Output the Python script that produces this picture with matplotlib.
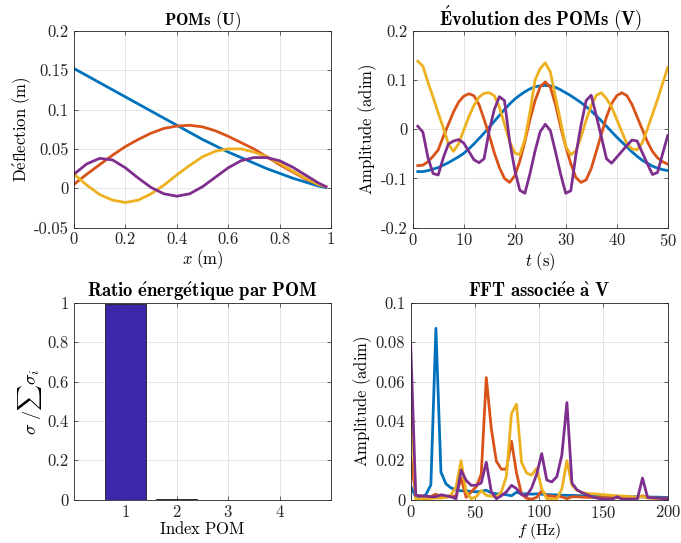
import matplotlib
matplotlib.use("Agg")
import matplotlib.pyplot as plt

plt.rcParams['font.family'] = 'serif'
plt.rcParams['font.serif'] = ['cmr10']
plt.rcParams['mathtext.fontset'] = 'cm'
plt.rcParams['axes.formatter.use_mathtext'] = True
plt.rcParams['axes.unicode_minus'] = True

colors = ['#0072BD', '#D95319', '#EDB120', '#7E2F8E']

# ---- POMs (U) ----
x_pos = [0.0, 0.05, 0.1, 0.15, 0.2, 0.25, 0.3, 0.35, 0.4, 0.45, 0.5, 0.55,
         0.6, 0.65, 0.7, 0.75, 0.8, 0.85, 0.9, 0.95, 0.98]
U1 = [0.152, 0.143, 0.134, 0.125, 0.116, 0.107, 0.098, 0.089, 0.080, 0.071,
      0.062, 0.054, 0.046, 0.039, 0.032, 0.025, 0.019, 0.013, 0.008, 0.003, 0.001]
U2 = [0.005, 0.018, 0.030, 0.042, 0.053, 0.062, 0.070, 0.076, 0.079, 0.080,
      0.078, 0.073, 0.066, 0.058, 0.050, 0.040, 0.030, 0.021, 0.012, 0.005, 0.002]
U3 = [0.018, 0.004, -0.008, -0.015, -0.018, -0.015, -0.007, 0.004, 0.017, 0.029,
      0.040, 0.047, 0.050, 0.050, 0.046, 0.040, 0.032, 0.022, 0.013, 0.005, 0.002]
U4 = [0.018, 0.031, 0.038, 0.036, 0.026, 0.013, 0.001, -0.007, -0.010, -0.007,
      0.002, 0.014, 0.026, 0.035, 0.039, 0.039, 0.035, 0.027, 0.017, 0.007, 0.002]

# ---- Evolution des POMs (V) ----
t = list(range(1, 51))
V1 = [-0.086, -0.086, -0.084, -0.081, -0.078, -0.073, -0.068, -0.062, -0.056, -0.049,
      -0.040, -0.030, -0.019, -0.008, 0.004, 0.016, 0.028, 0.040, 0.051, 0.061,
      0.069, 0.076, 0.082, 0.086, 0.088, 0.089, 0.088, 0.085, 0.080, 0.074,
      0.068, 0.061, 0.054, 0.046, 0.037, 0.027, 0.017, 0.006, -0.005, -0.016,
      -0.026, -0.036, -0.046, -0.055, -0.063, -0.069, -0.075, -0.079, -0.082, -0.084]
V2 = [-0.074, -0.073, -0.066, -0.055, -0.042, -0.015, 0.010, 0.035, 0.055, 0.067,
      0.072, 0.068, 0.050, 0.020, -0.012, -0.048, -0.078, -0.100, -0.108, -0.095,
      -0.065, -0.025, 0.020, 0.058, 0.086, 0.096, 0.085, 0.050, 0.005, -0.035,
      -0.070, -0.098, -0.108, -0.103, -0.080, -0.045, -0.010, 0.025, 0.052, 0.068,
      0.074, 0.068, 0.050, 0.025, 0.000, -0.025, -0.045, -0.058, -0.066, -0.071]
V3 = [0.138, 0.128, 0.095, 0.065, 0.033, 0.003, -0.030, -0.045, -0.030, -0.002,
      0.025, 0.048, 0.065, 0.073, 0.074, 0.068, 0.045, 0.010, -0.025, -0.048,
      -0.052, -0.020, 0.035, 0.100, 0.123, 0.135, 0.116, 0.065, 0.016, -0.035,
      -0.052, -0.044, -0.016, 0.018, 0.048, 0.069, 0.074, 0.062, 0.045, 0.020,
      -0.005, -0.030, -0.040, -0.042, -0.028, 0.000, 0.030, 0.060, 0.093, 0.125]
V4 = [0.006, -0.006, -0.058, -0.090, -0.093, -0.058, -0.030, -0.024, -0.021, -0.028,
      -0.045, -0.062, -0.068, -0.060, -0.003, 0.040, 0.066, 0.058, -0.024, -0.082,
      -0.124, -0.130, -0.090, -0.044, -0.005, 0.010, -0.003, -0.046, -0.091, -0.130,
      -0.125, -0.052, 0.008, 0.058, 0.069, 0.027, -0.016, -0.060, -0.069, -0.057,
      -0.045, -0.033, -0.022, -0.024, -0.047, -0.070, -0.092, -0.088, -0.050, -0.013]

# ---- Ratio energetique ----
pom_index = [1, 2, 3, 4]
ratio = [0.9955, 0.0038, 0.0005, 0.0002]

# ---- FFT ----
freq = [0.0, 3.92, 7.84, 11.76, 15.69, 19.61, 23.53, 27.45, 31.37, 35.29,
        39.22, 43.14, 47.06, 50.98, 54.9, 58.82, 62.75, 66.67, 70.59, 74.51,
        78.43, 82.35, 86.27, 90.2, 94.12, 98.04, 101.96, 105.88, 109.8, 113.73,
        117.65, 121.57, 125.49, 129.41, 133.33, 137.25, 141.18, 145.1, 149.02, 152.94,
        156.86, 160.78, 164.71, 168.63, 172.55, 176.47, 180.39, 184.31, 188.24, 192.16,
        196.08, 200.0]
F1 = [0.0068, 0.0015, 0.0012, 0.0025, 0.0075, 0.0870, 0.0140, 0.0080, 0.0060, 0.0050,
      0.0045, 0.0045, 0.0042, 0.0040, 0.0042, 0.0048, 0.0035, 0.0030, 0.0028, 0.0025,
      0.0020, 0.0038, 0.0030, 0.0030, 0.0028, 0.0030, 0.0028, 0.0026, 0.0025, 0.0024,
      0.0023, 0.0022, 0.0022, 0.0021, 0.0020, 0.0020, 0.0019, 0.0019, 0.0018, 0.0018,
      0.0017, 0.0017, 0.0016, 0.0016, 0.0015, 0.0015, 0.0014, 0.0014, 0.0013, 0.0013,
      0.0012, 0.0012]
F2 = [0.0215, 0.0022, 0.0018, 0.0015, 0.0016, 0.0028, 0.0015, 0.0013, 0.0015, 0.0020,
      0.0110, 0.0012, 0.0040, 0.0065, 0.0130, 0.0620, 0.0360, 0.0195, 0.0155, 0.0155,
      0.0297, 0.0135, 0.0030, 0.0007, 0.0003, 0.0012, 0.0045, 0.0020, 0.0018, 0.0015,
      0.0015, 0.0005, 0.0015, 0.0015, 0.0013, 0.0012, 0.0012, 0.0011, 0.0011, 0.0010,
      0.0010, 0.0010, 0.0010, 0.0009, 0.0009, 0.0009, 0.0020, 0.0009, 0.0008, 0.0008,
      0.0008, 0.0008]
F3 = [0.0540, 0.0003, 0.0003, 0.0005, 0.0006, 0.0008, 0.0008, 0.0012, 0.0025, 0.0065,
      0.0198, 0.0040, 0.0005, 0.0015, 0.0046, 0.0022, 0.0018, 0.0015, 0.0040, 0.0120,
      0.0437, 0.0485, 0.0190, 0.0135, 0.0125, 0.0160, 0.0056, 0.0005, 0.0005, 0.0002,
      0.0055, 0.0198, 0.0073, 0.0047, 0.0036, 0.0032, 0.0030, 0.0028, 0.0026, 0.0024,
      0.0022, 0.0020, 0.0019, 0.0017, 0.0015, 0.0014, 0.0016, 0.0010, 0.0008, 0.0006,
      0.0005, 0.0004]
F4 = [0.0788, 0.0022, 0.0020, 0.0018, 0.0015, 0.0015, 0.0025, 0.0020, 0.0015, 0.0005,
      0.0150, 0.0098, 0.0073, 0.0073, 0.0085, 0.0190, 0.0040, 0.0005, 0.0020, 0.0040,
      0.0073, 0.0056, 0.0025, 0.0020, 0.0060, 0.0130, 0.0234, 0.0100, 0.0090, 0.0117,
      0.0227, 0.0493, 0.0085, 0.0050, 0.0036, 0.0025, 0.0015, 0.0008, 0.0003, 0.0003,
      0.0003, 0.0015, 0.0002, 0.0003, 0.0003, 0.0005, 0.0110, 0.0012, 0.0010, 0.0008,
      0.0006, 0.0005]

W, H = 681, 543
fig = plt.figure(figsize=(W / 100, H / 100), dpi=100)

def pos(l, r, t_, b):
    return [l / W, (H - b) / H, (r - l) / W, (b - t_) / H]

ax1 = fig.add_axes(pos(74, 331, 30.7, 227.7))
ax2 = fig.add_axes(pos(412.7, 667.7, 30.7, 227.7))
ax3 = fig.add_axes(pos(74, 331, 302.7, 499.7))
ax4 = fig.add_axes(pos(410.7, 667.7, 302.7, 499.7))

def style(ax):
    ax.grid(True, color='#e0e0e0', linewidth=0.6)
    ax.set_axisbelow(True)
    for s in ax.spines.values():
        s.set_color('#262626')
        s.set_linewidth(0.6)
    ax.tick_params(direction='in', top=True, right=True, length=3, width=0.5,
                   colors='#262626', labelsize=12, pad=4)
    ax.tick_params(axis='x', pad=3)
    for lab in ax.get_xticklabels() + ax.get_yticklabels():
        lab.set_color('#262626')

lw = 2.0
fs_lab = 12
fs_title = 13.5

for U, c in zip([U1, U2, U3, U4], colors):
    ax1.plot(x_pos, U, color=c, lw=lw)
ax1.set_xlim(0, 1)
ax1.set_ylim(-0.05, 0.2)
ax1.set_xticks([0, 0.2, 0.4, 0.6, 0.8, 1])
ax1.set_xticklabels(['0', '0.2', '0.4', '0.6', '0.8', '1'])
ax1.set_yticks([-0.05, 0, 0.05, 0.1, 0.15, 0.2])
ax1.set_yticklabels(['-0.05', '0', '0.05', '0.1', '0.15', '0.2'])
ax1.set_xlabel(r'$x\ \mathrm{(m)}$', fontsize=fs_lab, labelpad=1)
ax1.set_ylabel(r"$\mathrm{D\acute{e}flection\ (m)}$", fontsize=fs_lab, labelpad=0)
ax1.set_title(r'$\mathbf{POMs\ (U)}$', fontsize=12, pad=4)
style(ax1)

for V, c in zip([V1, V2, V3, V4], colors):
    ax2.plot(t, V, color=c, lw=lw)
ax2.set_xlim(0, 50)
ax2.set_ylim(-0.2, 0.2)
ax2.set_xticks([0, 10, 20, 30, 40, 50])
ax2.set_yticks([-0.2, -0.1, 0, 0.1, 0.2])
ax2.set_yticklabels(['-0.2', '-0.1', '0', '0.1', '0.2'])
ax2.set_xlabel(r'$t\ \mathrm{(s)}$', fontsize=fs_lab, labelpad=1)
ax2.set_ylabel(r'$\mathrm{Amplitude\ (adim)}$', fontsize=fs_lab, labelpad=1)
ax2.set_title(r"$\mathbf{\acute{E}volution\ des\ POMs\ (V)}$", fontsize=fs_title, pad=4)
style(ax2)

ax3.bar(pom_index, ratio, width=0.8, color='#3E26A8', edgecolor='#1a1a1a', linewidth=0.6)
ax3.set_xlim(0, 5)
ax3.set_ylim(0, 1)
ax3.set_xticks([1, 2, 3, 4])
ax3.set_yticks([0, 0.2, 0.4, 0.6, 0.8, 1])
ax3.set_yticklabels(['0', '0.2', '0.4', '0.6', '0.8', '1'])
ax3.set_xlabel(r'$\mathrm{Index\ POM}$', fontsize=fs_lab, labelpad=0)
ax3.set_ylabel(r'$\sigma\ /\sum\sigma_i$', fontsize=13, labelpad=2)
ax3.set_title(r"$\mathbf{Ratio\ \acute{e}nerg\acute{e}tique\ par\ POM}$", fontsize=fs_title, pad=4)
style(ax3)

for F, c in zip([F1, F2, F3, F4], colors):
    ax4.plot(freq, F, color=c, lw=lw)
ax4.set_xlim(0, 200)
ax4.set_ylim(0, 0.1)
ax4.set_xticks([0, 50, 100, 150, 200])
ax4.set_yticks([0, 0.02, 0.04, 0.06, 0.08, 0.1])
ax4.set_yticklabels(['0', '0.02', '0.04', '0.06', '0.08', '0.1'])
ax4.set_xlabel(r'$f\ \mathrm{(Hz)}$', fontsize=11.5, labelpad=0)
ax4.set_ylabel(r'$\mathrm{Amplitude\ (adim)}$', fontsize=fs_lab, labelpad=1)
ax4.set_title(r"$\mathbf{FFT\ associ\acute{e}e\ \grave{a}\ V}$", fontsize=fs_title, pad=4)
style(ax4)

fig.savefig('out.png', dpi=100)
